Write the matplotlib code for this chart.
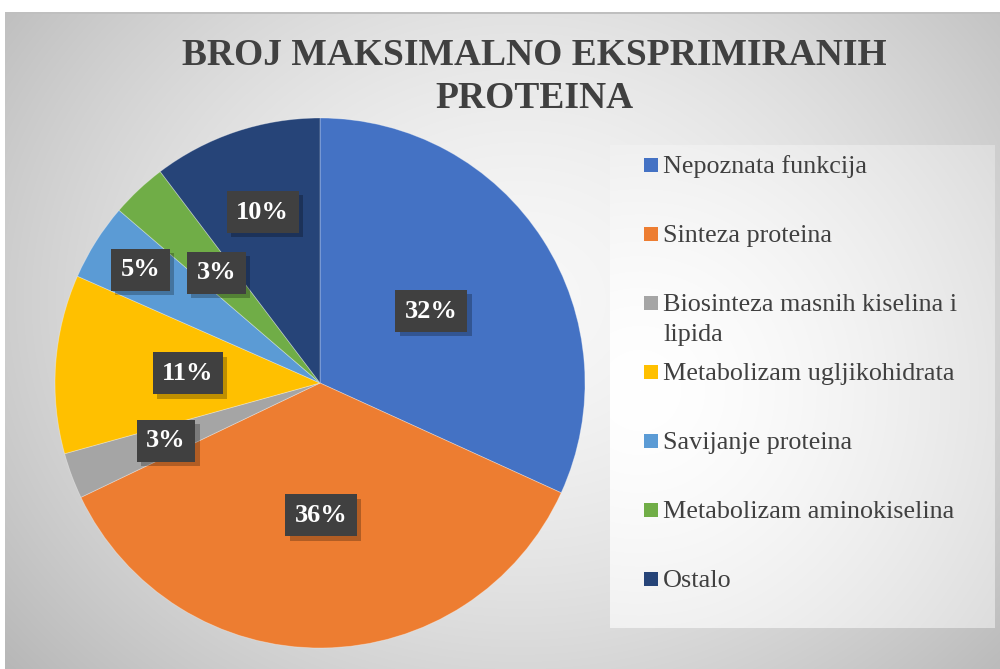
import numpy as np
import matplotlib
matplotlib.use("Agg")
import matplotlib.pyplot as plt
import matplotlib.patheffects as pe
from matplotlib.patches import Rectangle

# ---- data ----
categories = ["Nepoznata funkcija", "Sinteza proteina",
              "Biosinteza masnih kiselina i\nlipida",
              "Metabolizam ugljikohidrata", "Savijanje proteina",
              "Metabolizam aminokiselina", "Ostalo"]
values = [31.8, 36.1, 2.8, 10.9, 4.7, 3.4, 10.3]
colors = ["#4472C4", "#ED7D31", "#A5A5A5", "#FFC000", "#5B9BD5", "#70AD47", "#264478"]
label_radius = [0.5, 0.5, 0.62, 0.5, 0.8, 0.57, 0.68]
title = "BROJ MAKSIMALNO EKSPRIMIRANIH\nPROTEINA"

plt.rcParams['font.family'] = ['Liberation Serif', 'DejaVu Serif']

W, H = 1000, 669
fig = plt.figure(figsize=(W / 100, H / 100), dpi=100)
fig.patch.set_facecolor("white")

# ---- background gradient ----
bg = fig.add_axes([0, 0, 1, 1], zorder=0)
yy, xx = np.mgrid[0:H, 0:W].astype(float)
d = np.sqrt(((xx - 520) / 620) ** 2 + ((yy - 300) / 520) ** 2)
g = 0.97 - 0.22 * np.clip(d, 0, 1.3) ** 1.6
img = np.dstack([g, g, g])
img[:12, :, :] = 1.0
img[:, :5, :] = 1.0
img[12:14, 5:, :] = 0.75
# legend box gradient
lx0, lx1, ly0, ly1 = 610, 995, 145, 628
lxx = xx[ly0:ly1, lx0:lx1]
lyy = yy[ly0:ly1, lx0:lx1]
ld = np.sqrt(((lxx - 640) / 420) ** 2 + ((lyy - 390) / 420) ** 2)
lg = 1.0 - 0.13 * np.clip(ld, 0, 1.2) ** 1.5
img[ly0:ly1, lx0:lx1, :] = lg[..., None]
bg.imshow(img, extent=[0, W, H, 0], aspect="auto", interpolation="bilinear")
bg.set_xlim(0, W)
bg.set_ylim(H, 0)
bg.axis("off")

# ---- pie ----
cx, cy, r = 320, 383, 265
ax = fig.add_axes([(cx - r) / W, (H - cy - r) / H, 2 * r / W, 2 * r / H], zorder=2)
wedges, _ = ax.pie(values, colors=colors, startangle=90, counterclock=False,
                   radius=1.0, wedgeprops=dict(linewidth=0.6, edgecolor=(1, 1, 1, 0.35)))
ax.set_xlim(-1, 1)
ax.set_ylim(-1, 1)
ax.set_aspect("equal")
ax.axis("off")

for w, v, lr in zip(wedges, values, label_radius):
    ang = np.deg2rad((w.theta1 + w.theta2) / 2)
    x, y = lr * np.cos(ang), lr * np.sin(ang)
    t = ax.text(x, y, f"{round(v)}%", ha="center", va="center", fontsize=19,
                fontweight="bold", color="white",
                bbox=dict(boxstyle="square,pad=0.36", facecolor="#404040",
                          edgecolor="none"),
                zorder=4)
    t.get_bbox_patch().set_path_effects(
        [pe.SimplePatchShadow(offset=(3, -3), shadow_rgbFace="black", alpha=0.25),
         pe.Normal()])

# ---- title ----
bg.text(534, 77, title, ha="center", va="center", fontsize=27,
        fontweight="bold", color="#404040", linespacing=1.3)

# ---- legend (manual, evenly spaced entries) ----
leg_x, leg_y0, leg_step, sq, line_gap = 644, 165, 69, 14, 30
for i, (lab, col) in enumerate(zip(categories, colors)):
    yc = leg_y0 + i * leg_step
    bg.add_patch(Rectangle((leg_x, yc - sq / 2), sq, sq, facecolor=col, edgecolor="none"))
    for k, line in enumerate(lab.split("\n")):
        bg.text(leg_x + sq + 5, yc + 8 + k * line_gap, line, ha="left", va="baseline",
                fontsize=18.8, color="#404040")

fig.savefig("out.png", dpi=100)
